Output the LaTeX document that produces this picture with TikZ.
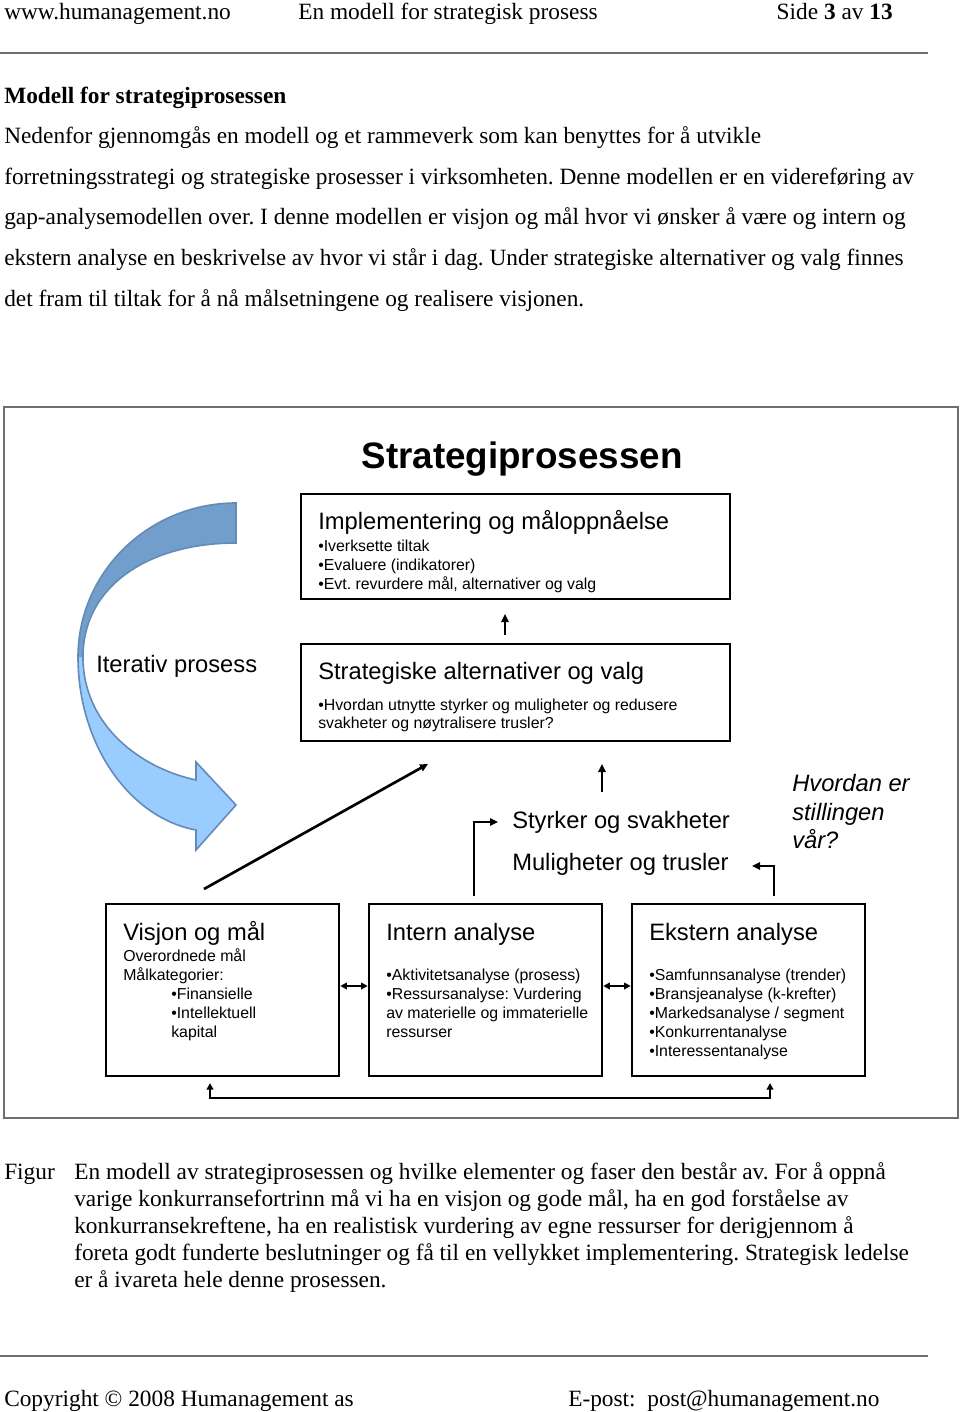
\documentclass[tikz,border=0pt]{standalone}
\usepackage{fontspec}
\setmainfont{Liberation Serif}
\newfontfamily\arial{Liberation Sans}
\usetikzlibrary{arrows.meta,fit}
\definecolor{arrdark}{RGB}{114,158,204}
\definecolor{arrlight}{RGB}{153,204,255}
\definecolor{arredge}{RGB}{100,138,182}
\definecolor{rulegray}{RGB}{110,110,110}
\frenchspacing
\begin{document}
\begin{tikzpicture}[x=0.75pt,y=-0.75pt,
  serif/.style={anchor=base west,inner sep=0pt,font=\fontsize{17.5}{21}\selectfont},
  capt/.style={anchor=base west,inner sep=0pt,font=\fontsize{17.5}{20}\selectfont},
  big/.style={anchor=base west,inner sep=0pt,font=\arial\fontsize{17.8}{21}\selectfont},
  small/.style={anchor=base west,inner sep=0pt,font=\arial\fontsize{11.9}{14.25}\selectfont},
  boxs/.style={draw,line width=1.9pt,inner sep=0pt},
  arr/.style={line width=2pt,-{Triangle[length=6pt,width=5.5pt]}},
  darr/.style={line width=2pt,{Triangle[length=5pt,width=5pt]}-{Triangle[length=5pt,width=5pt]}}
]
\useasboundingbox (0,0) rectangle (960,1412);
% header
\node[serif] (h1) at (4,20) {www.humanagement.no};
\node[serif] (h2) at (298,20) {En modell for strategisk prosess};
\node[serif,anchor=base east] (h3) at (893,20) {Side \textbf{3} av \textbf{13}};
\draw[rulegray,line width=1.5pt] (0,53) -- (928,53);
% body
\node[serif] (t0) at (4,104) {\textbf{Modell for strategiprosessen}};
\node[serif] (t1) at (4,144) {Nedenfor gjennomgås en modell og et rammeverk som kan benyttes for å utvikle};
\node[serif] (t2) at (4,185) {forretningsstrategi og strategiske prosesser i virksomheten. Denne modellen er en videreføring av};
\node[serif] (t3) at (4,225) {gap-analysemodellen over. I denne modellen er visjon og mål hvor vi ønsker å være og intern og};
\node[serif] (t4) at (4,266) {ekstern analyse en beskrivelse av hvor vi står i dag. Under strategiske alternativer og valg finnes};
\node[serif] (t5) at (4,306) {det fram til tiltak for å nå målsetningene og realisere visjonen.};
% frame
\node[draw=rulegray,line width=1pt,inner sep=0pt,fit={(4,407)(958,1118)}] (frame) {};
\node[anchor=base,inner sep=0pt,font=\arial\bfseries\fontsize{27.6}{32}\selectfont] (title) at (522,468) {Strategiprosessen};
% curved arrow
\fill[arrlight] (236,503) .. controls (149,503) and (78,572) .. (78,657)
  .. controls (78,745) and (130,818) .. (196,830)
  -- (196,850) -- (236,805) -- (196,762) -- (196,780)
  .. controls (140,768) and (83,725) .. (83,657)
  .. controls (83,585) and (150,543) .. (236,543) -- cycle;
\fill[arrdark] (236,503) .. controls (149,503) and (78,572) .. (78,657)
  -- (83,657) .. controls (83,585) and (150,543) .. (236,543) -- cycle;
\draw[arredge,line width=1.2pt,line join=miter] (236,503) .. controls (149,503) and (78,572) .. (78,657)
  .. controls (78,745) and (130,818) .. (196,830)
  -- (196,850) -- (236,805) -- (196,762) -- (196,780)
  .. controls (140,768) and (83,725) .. (83,657)
  .. controls (83,585) and (150,543) .. (236,543) -- cycle;
\node[big] (iter) at (96,672.5) {Iterativ prosess};
% box 1
\node[boxs,fit={(301,494)(730,599)}] (impl) {};
\node[big] at (318,529.5) {Implementering og måloppnåelse};
\node[small] at (318,551) {•Iverksette tiltak};
\node[small] at (318,570) {•Evaluere (indikatorer)};
\node[small] at (318,589) {•Evt. revurdere mål, alternativer og valg};
% box 2
\node[boxs,fit={(301,644)(730,741)}] (strat) {};
\node[big] at (318,679.5) {Strategiske alternativer og valg};
\node[small] at (318,710) {•Hvordan utnytte styrker og muligheter og redusere};
\node[small] at (318,728) {svakheter og nøytralisere trusler?};
\coordinate (u1a) at (505,635);
\coordinate (u1b) at (505,614);
\draw[arr] (u1a) -- (u1b);
% SWOT text
\node[big] (sw) at (512,828.5) {Styrker og svakheter};
\node[big] (ot) at (512,870.5) {Muligheter og trusler};
\node[big,font=\arial\itshape\fontsize{17.8}{21}\selectfont] at (792,791.5) {Hvordan er};
\node[big,font=\arial\itshape\fontsize{17.8}{21}\selectfont] at (792,820.5) {stillingen};
\node[big,font=\arial\itshape\fontsize{17.8}{21}\selectfont] at (792,848.5) {vår?};
\coordinate (u2a) at (602,792);
\coordinate (u2b) at (602,764);
\draw[arr] (u2a) -- (u2b);
\coordinate (dga) at (204,889);
\coordinate (dgb) at (428,764);
\draw[arr] (dga) -- (dgb);
% bottom boxes
\node[boxs,fit={(106,904)(339,1076)}] (vis) {};
\node[boxs,fit={(369,904)(602,1076)}] (int) {};
\node[boxs,fit={(632,904)(865,1076)}] (eks) {};
\coordinate (el1a) at (474,896);
\coordinate (el1b) at (498,822);
\draw[arr] (el1a) |- (el1b);
\coordinate (el2a) at (774,896);
\coordinate (el2b) at (752,866);
\draw[arr] (el2a) |- (el2b);
\draw[darr] ([yshift=3pt]vis.east) -- ([yshift=3pt]int.west);
\draw[darr] ([yshift=3pt]int.east) -- ([yshift=3pt]eks.west);
\coordinate (bl) at (210,1083);
\coordinate (br) at (770,1083);
\draw[line width=2.2pt,{Triangle[length=5pt,width=5pt]}-{Triangle[length=5pt,width=5pt]}] (bl) -- (210,1098) -- (770,1098) -- (br);
\node[big] at (123,940.5) {Visjon og mål};
\node[small] at (123,961) {Overordnede mål};
\node[small] at (123,980) {Målkategorier:};
\node[small] at (171,999) {•Finansielle};
\node[small] at (171,1018) {•Intellektuell};
\node[small] at (171,1037) {kapital};
\node[big] at (386,940.5) {Intern analyse};
\node[small] at (386,980) {•Aktivitetsanalyse (prosess)};
\node[small] at (386,999) {•Ressursanalyse: Vurdering};
\node[small] at (386,1018) {av materielle og immaterielle};
\node[small] at (386,1037) {ressurser};
\node[big] at (649,940.5) {Ekstern analyse};
\node[small] at (649,980) {•Samfunnsanalyse (trender)};
\node[small] at (649,999) {•Bransjeanalyse (k-krefter)};
\node[small] at (649,1018) {•Markedsanalyse / segment};
\node[small] at (649,1037) {•Konkurrentanalyse};
\node[small] at (649,1056) {•Interessentanalyse};
% caption
\node[capt] (c0) at (4,1179) {Figur};
\node[capt] (c1) at (74,1179) {En modell av strategiprosessen og hvilke elementer og faser den består av. For å oppnå};
\node[capt] (c2) at (74,1206) {varige konkurransefortrinn må vi ha en visjon og gode mål, ha en god forståelse av};
\node[capt] (c3) at (74,1233) {konkurransekreftene, ha en realistisk vurdering av egne ressurser for derigjennom å};
\node[capt] (c4) at (74,1260) {foreta godt funderte beslutninger og få til en vellykket implementering. Strategisk ledelse};
\node[capt] (c5) at (74,1287) {er å ivareta hele denne prosessen.};
% footer
\draw[rulegray,line width=1.5pt] (0,1356) -- (928,1356);
\node[serif] (f1) at (4,1406) {Copyright © 2008 Humanagement as};
\node[serif] (f2) at (568,1406) {E-post:\ \ post@humanagement.no};
\end{tikzpicture}
\end{document}
